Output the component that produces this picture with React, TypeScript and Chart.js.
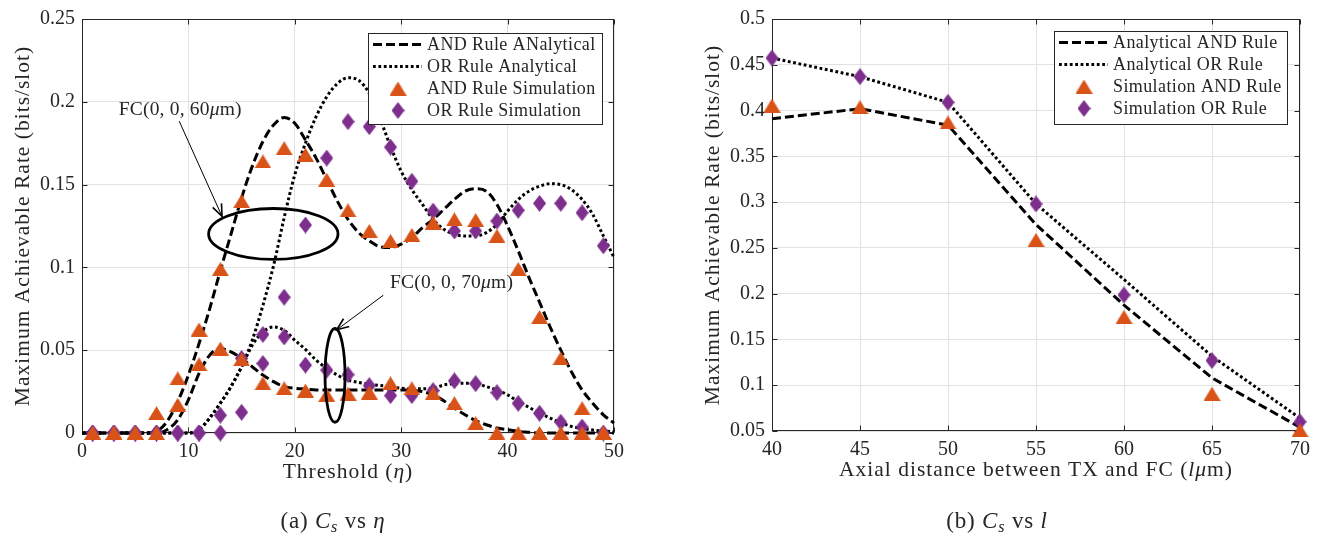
import React, { useEffect, useRef } from 'react';
import { Chart, registerables } from 'chart.js';

Chart.register(...registerables);

const SERIF = '"Liberation Serif", "Times New Roman", serif';
const AXIS_COLOR = '#262626';
const GRID_COLOR = '#e2e2e2';
const ORANGE = '#D95319';
const PURPLE = '#7E2F8E';

// ---------- (a) Cs vs threshold ----------
const THRESH_FINE = [0, 1, 2, 3, 4, 5, 6, 7, 8, 9, 10, 11, 12, 13, 14, 15, 16, 17, 18, 19, 20, 21, 22, 23, 24, 25, 26, 27, 28, 29, 30, 31, 32, 33, 34, 35, 36, 37, 38, 39, 40, 41, 42, 43, 44, 45, 46, 47, 48, 49, 50];
const AND60_ANALYTICAL = [0, 0, 0, 0, 0, 0, 0, 0.001, 0.007, 0.019, 0.035, 0.054, 0.075, 0.098, 0.12, 0.142, 0.161, 0.176, 0.186, 0.1905, 0.187, 0.177, 0.166, 0.153, 0.14, 0.129, 0.121, 0.116, 0.1125, 0.112, 0.114, 0.118, 0.124, 0.129, 0.135, 0.141, 0.146, 0.1475, 0.146, 0.138, 0.125, 0.11, 0.094, 0.079, 0.064, 0.05, 0.037, 0.026, 0.018, 0.011, 0.006];
const AND70_ANALYTICAL = [0, 0, 0, 0, 0, 0, 0, 0, 0.002, 0.008, 0.02, 0.036, 0.047, 0.051, 0.049, 0.045, 0.04, 0.035, 0.031, 0.028, 0.027, 0.0265, 0.026, 0.026, 0.026, 0.026, 0.026, 0.026, 0.026, 0.026, 0.026, 0.0258, 0.025, 0.023, 0.0195, 0.015, 0.011, 0.0075, 0.005, 0.003, 0.002, 0.001, 0.0005, 0, 0, 0, 0, 0, 0, 0, 0];
const OR60_ANALYTICAL = [0, 0, 0, 0, 0, 0, 0, 0, 0, 0, 0, 0.002, 0.009, 0.018, 0.028, 0.04, 0.056, 0.077, 0.101, 0.13, 0.156, 0.175, 0.191, 0.203, 0.211, 0.2145, 0.213, 0.205, 0.19, 0.173, 0.158, 0.147, 0.138, 0.129, 0.123, 0.12, 0.119, 0.119, 0.121, 0.126, 0.134, 0.141, 0.146, 0.149, 0.1505, 0.15, 0.147, 0.141, 0.132, 0.119, 0.106];
const OR70_ANALYTICAL = [0, 0, 0, 0, 0, 0, 0, 0, 0, 0, 0, 0.002, 0.009, 0.018, 0.028, 0.04, 0.053, 0.061, 0.064, 0.062, 0.056, 0.0505, 0.044, 0.039, 0.035, 0.032, 0.0305, 0.0295, 0.0287, 0.028, 0.027, 0.0267, 0.0267, 0.027, 0.029, 0.0298, 0.03, 0.0298, 0.028, 0.026, 0.023, 0.019, 0.0155, 0.012, 0.009, 0.0062, 0.004, 0.0028, 0.0018, 0.0012, 0.0008];

const THRESH_SIM = [1, 3, 5, 7, 9, 11, 13, 15, 17, 19, 21, 23, 25, 27, 29, 31, 33, 35, 37, 39, 41, 43, 45, 47, 49];
const AND60_SIM = [0, 0, 0, 0.012, 0.033, 0.0625, 0.099, 0.14, 0.164, 0.172, 0.168, 0.153, 0.1345, 0.122, 0.116, 0.1196, 0.127, 0.129, 0.1286, 0.119, 0.099, 0.07, 0.045, 0.015, 0];
const AND70_SIM = [0, 0, 0, 0, 0.017, 0.0415, 0.051, 0.0445, 0.03, 0.027, 0.0256, 0.023, 0.0238, 0.0244, 0.03, 0.027, 0.024, 0.018, 0.006, 0, 0, 0, 0, 0, 0];
const OR60_SIM = [0, 0, 0, 0, 0, 0, 0, 0.0125, 0.042, 0.082, 0.1256, 0.166, 0.188, 0.185, 0.1726, 0.152, 0.134, 0.122, 0.122, 0.128, 0.1345, 0.1387, 0.1387, 0.133, 0.113];
const OR70_SIM = [0, 0, 0, 0, 0, 0, 0.0107, 0.045, 0.0595, 0.058, 0.041, 0.038, 0.0352, 0.0286, 0.0226, 0.0226, 0.0256, 0.0315, 0.0298, 0.0244, 0.0179, 0.0119, 0.0065, 0.0036, 0];

const LEFT_X_TICKS = [0, 10, 20, 30, 40, 50];
const LEFT_Y_TICKS = [0, 0.05, 0.1, 0.15, 0.2, 0.25];
const LEFT_LEGEND = ['AND Rule ANalytical', 'OR Rule Analytical', 'AND Rule Simulation', 'OR Rule Simulation'];

// ---------- (b) Cs vs axial distance ----------
const DISTANCE = [40, 45, 50, 55, 60, 65, 70];
const AND_ANALYTICAL_L = [0.391, 0.402, 0.384, 0.2755, 0.1875, 0.108, 0.054];
const OR_ANALYTICAL_L = [0.4574, 0.437, 0.409, 0.298, 0.2155, 0.1316, 0.064];
const AND_SIM_L = [0.4055, 0.4037, 0.387, 0.2587, 0.1746, 0.0907, 0.051];
const OR_SIM_L = [0.4574, 0.437, 0.409, 0.298, 0.1986, 0.127, 0.06];

const RIGHT_X_TICKS = [40, 45, 50, 55, 60, 65, 70];
const RIGHT_Y_TICKS = [0.05, 0.1, 0.15, 0.2, 0.25, 0.3, 0.35, 0.4, 0.45, 0.5];
const RIGHT_LEGEND = ['Analytical AND Rule', 'Analytical OR Rule', 'Simulation AND Rule', 'Simulation OR Rule'];

const DASH = [9, 4];
const DOT = [2.8, 2.6];
const LINE_W = 3;

type Seg = { t: string; it?: boolean };

function drawRich(ctx: CanvasRenderingContext2D, segs: Seg[], x: number, y: number, size: number, spacing: number, align: 'left' | 'center') {
  ctx.save();
  ctx.textBaseline = 'middle';
  ctx.textAlign = 'left';
  ctx.fillStyle = AXIS_COLOR;
  (ctx as any).letterSpacing = spacing + 'px';
  const widths = segs.map((s) => {
    ctx.font = `${s.it ? 'italic ' : ''}${size}px ${SERIF}`;
    return ctx.measureText(s.t).width;
  });
  const total = widths.reduce((a, b) => a + b, 0);
  let cx = align === 'center' ? x - total / 2 : x;
  segs.forEach((s, i) => {
    ctx.font = `${s.it ? 'italic ' : ''}${size}px ${SERIF}`;
    ctx.fillText(s.t, cx, y);
    cx += widths[i];
  });
  ctx.restore();
}

function makeTriangle(): HTMLCanvasElement {
  const c = document.createElement('canvas');
  c.width = 17;
  c.height = 14;
  const g = c.getContext('2d')!;
  g.fillStyle = ORANGE;
  g.beginPath();
  g.moveTo(8.5, 0);
  g.lineTo(17, 14);
  g.lineTo(0, 14);
  g.closePath();
  g.fill();
  return c;
}

function makeDiamond(): HTMLCanvasElement {
  const c = document.createElement('canvas');
  c.width = 13;
  c.height = 17;
  const g = c.getContext('2d')!;
  g.fillStyle = PURPLE;
  g.beginPath();
  g.moveTo(6.5, 0);
  g.lineTo(13, 8.5);
  g.lineTo(6.5, 17);
  g.lineTo(0, 8.5);
  g.closePath();
  g.fill();
  return c;
}

const fmt = (v: number) => String(+(+v).toFixed(2));

function lineDs(label: string, xs: number[], ys: number[], dash: number[], smooth: boolean) {
  return {
    label,
    data: xs.map((x, i) => ({ x, y: ys[i] })),
    showLine: true,
    borderColor: '#000',
    borderWidth: LINE_W,
    borderDash: dash,
    borderCapStyle: 'butt',
    pointRadius: 0,
    pointHoverRadius: 0,
    fill: false,
    cubicInterpolationMode: smooth ? 'monotone' : 'default',
    tension: 0,
    clip: false,
  };
}

function markerDs(label: string, xs: number[], ys: number[], img: HTMLCanvasElement) {
  return {
    label,
    data: xs.map((x, i) => ({ x, y: ys[i] })),
    showLine: false,
    pointStyle: img,
    pointRadius: 8,
    pointHoverRadius: 8,
    borderWidth: 0,
    clip: false,
  };
}

function axis(min: number, max: number, ticks: number[], fit: number, isX: boolean) {
  return {
    type: 'linear',
    min,
    max,
    afterBuildTicks: (s: any) => {
      s.ticks = ticks.map((v) => ({ value: v }));
    },
    afterFit: (s: any) => {
      if (isX) s.height = fit;
      else s.width = fit;
    },
    ticks: {
      autoSkip: false,
      maxRotation: 0,
      padding: 7,
      color: AXIS_COLOR,
      font: { family: SERIF, size: 20 },
      callback: (v: any) => fmt(v),
    },
    grid: { color: GRID_COLOR, lineWidth: 1, drawTicks: false },
    border: { display: false },
  };
}

interface Extra {
  legendLabels: string[];
  legendBox: { rightGap: number; topGap: number; w: number; h: number };
  yTitle: Seg[];
  xTitle: Seg[];
  annotate?: (chart: any, ctx: CanvasRenderingContext2D) => void;
  tri: HTMLCanvasElement;
  dia: HTMLCanvasElement;
}

function decorPlugin(ex: Extra) {
  return {
    id: 'decor',
    beforeDatasetsDraw(chart: any) {
      const ctx: CanvasRenderingContext2D = chart.ctx;
      const { left, right, top, bottom } = chart.chartArea;
      ctx.save();
      ctx.strokeStyle = AXIS_COLOR;
      ctx.lineWidth = 1;
      const L = Math.round(left) + 0.5, R = Math.round(right) - 0.5, T = Math.round(top) + 0.5, B = Math.round(bottom) - 0.5;
      ctx.strokeRect(L, T, R - L, B - T);
      ctx.beginPath();
      chart.scales.x.ticks.forEach((t: any) => {
        const px = Math.round(chart.scales.x.getPixelForValue(t.value)) + 0.5;
        ctx.moveTo(px, B);
        ctx.lineTo(px, B - 5);
        ctx.moveTo(px, T);
        ctx.lineTo(px, T + 5);
      });
      chart.scales.y.ticks.forEach((t: any) => {
        const py = Math.round(chart.scales.y.getPixelForValue(t.value)) + 0.5;
        ctx.moveTo(L, py);
        ctx.lineTo(L + 5, py);
        ctx.moveTo(R, py);
        ctx.lineTo(R - 5, py);
      });
      ctx.stroke();
      ctx.restore();
    },
    afterDatasetsDraw(chart: any) {
      const ctx: CanvasRenderingContext2D = chart.ctx;
      const { right, top } = chart.chartArea;
      if (ex.annotate) ex.annotate(chart, ctx);
      // legend
      const b = ex.legendBox;
      const bx = Math.round(right - b.rightGap - b.w);
      const by = Math.round(top + b.topGap);
      ctx.save();
      ctx.fillStyle = '#fff';
      ctx.fillRect(bx, by, b.w, b.h);
      ctx.strokeStyle = AXIS_COLOR;
      ctx.lineWidth = 1;
      ctx.strokeRect(bx + 0.5, by + 0.5, Math.round(b.w), Math.round(b.h));
      ex.legendLabels.forEach((lab, i) => {
        const cy = by + 11.5 + i * 22;
        if (i < 2) {
          ctx.save();
          ctx.strokeStyle = '#000';
          ctx.lineWidth = LINE_W;
          ctx.setLineDash(i === 0 ? DASH : DOT);
          ctx.beginPath();
          ctx.moveTo(bx + 5, cy);
          ctx.lineTo(bx + 54, cy);
          ctx.stroke();
          ctx.restore();
        } else {
          const img = i === 2 ? ex.tri : ex.dia;
          ctx.drawImage(img, bx + 30 - img.width / 2, cy - img.height / 2);
        }
        drawRich(ctx, [{ t: lab }], bx + 59, cy + 1, 18, 0.4, 'left');
      });
      ctx.restore();
    },
    afterDraw(chart: any) {
      const ctx: CanvasRenderingContext2D = chart.ctx;
      const { left, right, top, bottom } = chart.chartArea;
      ctx.save();
      ctx.translate(left - 59, (top + bottom) / 2);
      ctx.rotate(-Math.PI / 2);
      drawRich(ctx, ex.yTitle, 0, 0, 21.5, 1, 'center');
      ctx.restore();
      drawRich(ctx, ex.xTitle, (left + right) / 2, bottom + 39, 21.5, 1, 'center');
    },
  };
}

function arrow(ctx: CanvasRenderingContext2D, x1: number, y1: number, x2: number, y2: number) {
  ctx.save();
  ctx.strokeStyle = '#000';
  ctx.lineWidth = 1;
  ctx.beginPath();
  ctx.moveTo(x1, y1);
  ctx.lineTo(x2, y2);
  ctx.stroke();
  const a = Math.atan2(y2 - y1, x2 - x1);
  const len = 13;
  const spread = 0.38;
  ctx.lineWidth = 1.6;
  ctx.beginPath();
  ctx.moveTo(x2 - len * Math.cos(a - spread), y2 - len * Math.sin(a - spread));
  ctx.lineTo(x2, y2);
  ctx.lineTo(x2 - len * Math.cos(a + spread), y2 - len * Math.sin(a + spread));
  ctx.stroke();
  ctx.restore();
}

// Annotation anchors (data units)
const ANNOT_60 = { textX: 3.45, textY: 0.1952, fromX: 9.14, fromY: 0.1883, toX: 13.16, toY: 0.1308, cx: 17.98, cy: 0.1202, rx: 6.08, ry: 0.01536 };
const ANNOT_70 = { textX: 28.95, textY: 0.0905, fromX: 28.32, fromY: 0.0832, toX: 23.94, toY: 0.0623, cx: 23.78, cy: 0.0348, rx: 0.94, ry: 0.0283 };

function annotateLeft(chart: any, ctx: CanvasRenderingContext2D) {
  const xs = chart.scales.x, ys = chart.scales.y;
  const px = (v: number) => xs.getPixelForValue(v);
  const py = (v: number) => ys.getPixelForValue(v);
  [{ a: ANNOT_60, label: '60' }, { a: ANNOT_70, label: '70' }].forEach(({ a, label }) => {
    ctx.save();
    ctx.strokeStyle = '#000';
    ctx.lineWidth = 2.8;
    ctx.beginPath();
    const ecx = px(a.cx), ecy = py(a.cy);
    const erx = px(a.cx + a.rx) - ecx, ery = ecy - py(a.cy + a.ry);
    ctx.ellipse(ecx, ecy, erx, ery, 0, 0, Math.PI * 2);
    ctx.stroke();
    ctx.restore();
    arrow(ctx, px(a.fromX), py(a.fromY), px(a.toX), py(a.toY));
    drawRich(ctx, [{ t: 'FC(0, 0, ' + label }, { t: 'μ', it: true }, { t: 'm)' }], px(a.textX), py(a.textY), 19.5, 0.2, 'left');
  });
}

function baseOptions(padding: any, scales: any) {
  return {
    responsive: false,
    animation: false,
    devicePixelRatio: 1,
    events: [],
    layout: { padding },
    scales,
    plugins: { legend: { display: false }, tooltip: { enabled: false }, title: { display: false } },
  };
}

export default function App() {
  const leftRef = useRef<HTMLCanvasElement>(null);
  const rightRef = useRef<HTMLCanvasElement>(null);

  useEffect(() => {
    const tri = makeTriangle();
    const dia = makeDiamond();

    const leftChart = new Chart(leftRef.current!, {
      type: 'line',
      data: {
        datasets: [
          markerDs('AND60 sim', THRESH_SIM, AND60_SIM, tri),
          markerDs('AND70 sim', THRESH_SIM, AND70_SIM, tri),
          markerDs('OR60 sim', THRESH_SIM, OR60_SIM, dia),
          markerDs('OR70 sim', THRESH_SIM, OR70_SIM, dia),
          lineDs('AND60', THRESH_FINE, AND60_ANALYTICAL, DASH, true),
          lineDs('AND70', THRESH_FINE, AND70_ANALYTICAL, DASH, true),
          lineDs('OR60', THRESH_FINE, OR60_ANALYTICAL, DOT, true),
          lineDs('OR70', THRESH_FINE, OR70_ANALYTICAL, DOT, true),
        ] as any,
      },
      options: baseOptions(
        { left: 0, top: 13, right: 46, bottom: 0 },
        { x: axis(0, 50, LEFT_X_TICKS, 100, true), y: axis(0, 0.25, LEFT_Y_TICKS, 82, false) }
      ) as any,
      plugins: [
        decorPlugin({
          legendLabels: LEFT_LEGEND,
          legendBox: { rightGap: 12, topGap: 14, w: 234, h: 91 },
          yTitle: [{ t: 'Maximum Achievable Rate (bits/slot)' }],
          xTitle: [{ t: 'Threshold (' }, { t: 'η', it: true }, { t: ')' }],
          annotate: annotateLeft,
          tri,
          dia,
        }),
      ],
    });

    const rightChart = new Chart(rightRef.current!, {
      type: 'line',
      data: {
        datasets: [
          markerDs('AND sim', DISTANCE, AND_SIM_L, tri),
          markerDs('OR sim', DISTANCE, OR_SIM_L, dia),
          lineDs('AND analytical', DISTANCE, AND_ANALYTICAL_L, DASH, false),
          lineDs('OR analytical', DISTANCE, OR_ANALYTICAL_L, DOT, false),
        ] as any,
      },
      options: baseOptions(
        { left: 0, top: 12, right: 13, bottom: 0 },
        { x: axis(40, 70, RIGHT_X_TICKS, 102, true), y: axis(0.05, 0.5, RIGHT_Y_TICKS, 112, false) }
      ) as any,
      plugins: [
        decorPlugin({
          legendLabels: RIGHT_LEGEND,
          legendBox: { rightGap: 13, topGap: 12, w: 233, h: 93 },
          yTitle: [{ t: 'Maximum Achievable Rate (bits/slot)' }],
          xTitle: [{ t: 'Axial distance between TX and FC (' }, { t: 'lμ', it: true }, { t: 'm)' }],
          tri,
          dia,
        }),
      ],
    });

    return () => {
      leftChart.destroy();
      rightChart.destroy();
    };
  }, []);

  const capStyle: React.CSSProperties = {
    position: 'absolute',
    top: 507,
    width: 300,
    textAlign: 'center',
    fontFamily: SERIF,
    fontSize: 23,
    letterSpacing: '0.8px',
    lineHeight: '28px',
    color: '#262626',
    whiteSpace: 'nowrap',
  };
  const sub: React.CSSProperties = { fontSize: '70%', verticalAlign: '-0.25em', fontStyle: 'italic' };

  return (
    <div style={{ position: 'absolute', left: 0, top: 0, width: 1317, height: 533, background: '#fff', overflow: 'hidden' }}>
      <canvas ref={leftRef} width={660} height={533} style={{ position: 'absolute', left: 0, top: 0, width: 660, height: 533 }} />
      <canvas ref={rightRef} width={657} height={533} style={{ position: 'absolute', left: 660, top: 0, width: 657, height: 533 }} />
      <div style={{ ...capStyle, left: 333 - 150 }}>
        (a) <i>C</i><span style={sub}>s</span> vs <i>η</i>
      </div>
      <div style={{ ...capStyle, left: 997 - 150 }}>
        (b) <i>C</i><span style={sub}>s</span> vs <i>l</i>
      </div>
    </div>
  );
}
